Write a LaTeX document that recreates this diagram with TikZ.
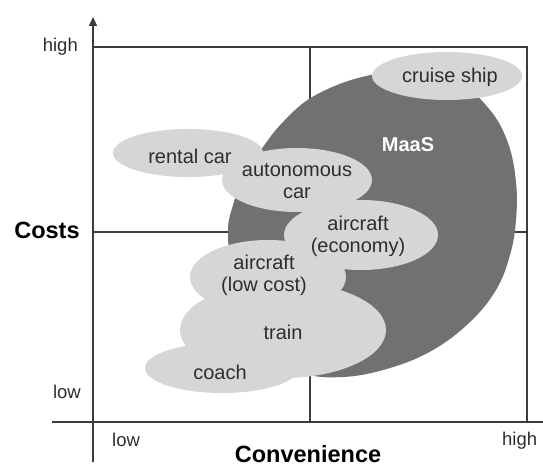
\documentclass[tikz,border=0pt]{standalone}
\usepackage{fontspec}
\setmainfont{Liberation Sans}
\usetikzlibrary{shapes.geometric,arrows.meta}
\definecolor{maasgray}{HTML}{717171}
\definecolor{modegray}{HTML}{D6D6D6}
\definecolor{inkgray}{HTML}{2E2E2E}
\definecolor{linegray}{HTML}{3C3C3C}
\tikzset{
  gridline/.style={draw=linegray, line width=1.4pt},
  axisline/.style={draw=linegray, line width=2.2pt},
  mode/.style={ellipse, fill=modegray, draw=none, inner sep=0pt},
  modetext/.style={text=inkgray, font=\fontsize{20}{22}\selectfont, align=center, inner sep=0pt},
  ticktext/.style={text=inkgray, font=\fontsize{18.5}{20}\selectfont, inner sep=0pt},
  axistitle/.style={text=black, font=\bfseries\fontsize{23.5}{25}\selectfont, inner sep=0pt},
}
\begin{document}
\begin{tikzpicture}[x=1pt,y=-1pt]
\useasboundingbox[fill=white] (0,0) rectangle (543,468);

% quadrant grid
\coordinate (tl) at (93,47);
\coordinate (tm) at (310,47);
\coordinate (tr) at (527,47);
\coordinate (ml) at (93,232);
\coordinate (mr) at (527,232);
\coordinate (bm) at (310,422);
\coordinate (br) at (527,422);
\draw[gridline] (tl) -- (tr) -- (br);
\draw[gridline] (ml) -- (mr);
\draw[gridline] (tm) -- (bm);

% axes
\coordinate (ybot) at (93,462);
\coordinate (ytop) at (93,17);
\coordinate (xleft) at (52,422);
\coordinate (xright) at (543,422);
\draw[gridline, line width=1.8pt, -{Triangle[length=9pt,width=8pt]}] (ybot) -- (ytop);
\draw[axisline] (xleft) -- (xright);

% MaaS region
\fill[maasgray] plot[smooth cycle, tension=0.65] coordinates {
  (263,147) (284,121) (314,96) (362,77) (415,71) (460,84)
  (490,110) (508,143) (516,182) (516,220) (510,255) (496,290)
  (470,322) (433,350) (390,368) (343,377) (300,372) (262,345)
  (236,292) (228,236) (233,205) (245,175)};

% transport modes
\node[mode, minimum width=150pt, minimum height=48pt] (cruise) at (447,76) {};
\node[mode, minimum width=150pt, minimum height=48pt] (rental) at (188,153) {};
\node[mode, minimum width=150pt, minimum height=64pt] (auto) at (297,180) {};
\node[mode, minimum width=154pt, minimum height=70pt] (economy) at (361,235) {};
\node[mode, minimum width=156pt, minimum height=74pt] (lowcost) at (268,277) {};
\node[mode, minimum width=206pt, minimum height=96pt] (train) at (283,330) {};
\node[mode, minimum width=154pt, minimum height=50pt] (coach) at (222,368) {};

\node[modetext] (cruiseT) at (450,77) {cruise ship};
\node[modetext] (rentalT) at (190,156) {rental car};
\node[modetext] (autoT) at (297,181) {autonomous\\car};
\node[modetext] (economyT) at (358,236) {aircraft\\(economy)};
\node[modetext] (lowcostT) at (264,275) {aircraft\\(low cost)};
\node[modetext] (trainT) at (283,332) {train};
\node[modetext] (coachT) at (220,372) {coach};
\node[text=white, font=\bfseries\fontsize{20}{22}\selectfont, inner sep=0pt] (maas) at (408,145) {MaaS};

% axis labels
\node[ticktext, anchor=east] (yhigh) at (78,47) {high};
\node[ticktext, anchor=east] (ylow) at (81,392) {low};
\node[ticktext, anchor=west] (xlow) at (112,440) {low};
\node[ticktext, anchor=west] (xhigh) at (502,441) {high};
\node[axistitle] (costs) at (47,230) {Costs};
\node[axistitle] (conv) at (308,454) {Convenience};
\end{tikzpicture}
\end{document}
